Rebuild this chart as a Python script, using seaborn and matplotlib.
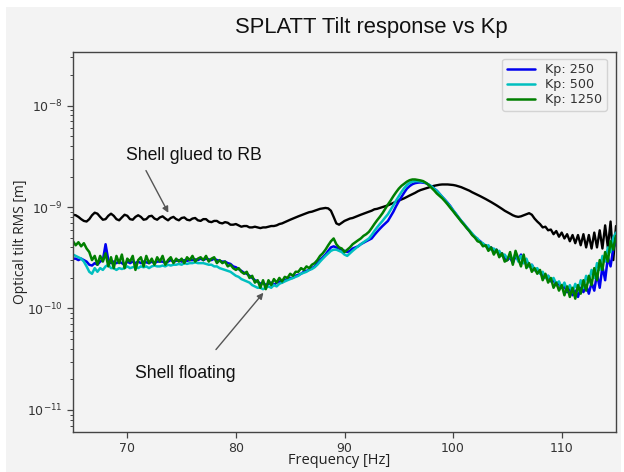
import numpy as np
import pandas as pd
import matplotlib
matplotlib.use("Agg")
import matplotlib.pyplot as plt
from matplotlib.patches import Rectangle
from matplotlib.ticker import NullFormatter
import seaborn as sns

# frequency grid, 65 .. 115 Hz, step 0.25 Hz
freq = np.arange(65.0, 115.001, 0.25)

# values below in units of 1e-10 m
glued = [
    8.4, 8.3, 8.0, 7.6, 7.3, 7.2, 7.6, 8.3,      # 65
    8.8, 8.6, 8.0, 7.5, 7.6, 8.2, 8.6, 8.2,      # 67
    7.6, 7.4, 7.9, 8.4, 8.2, 7.6, 7.5, 8.0,      # 69
    8.3, 8.0, 7.5, 7.6, 8.1, 8.2, 7.7, 7.5,      # 71
    7.9, 8.1, 7.7, 7.4, 7.8, 8.0, 7.6, 7.4,      # 73
    7.8, 7.9, 7.5, 7.4, 7.7, 7.8, 7.4, 7.3,      # 75
    7.6, 7.6, 7.2, 7.1, 7.3, 7.3, 7.0, 6.9,      # 77
    7.1, 7.0, 6.7, 6.7, 6.8, 6.6, 6.4, 6.5,      # 79
    6.5, 6.3, 6.3, 6.4, 6.3, 6.2, 6.3, 6.3,      # 81
    6.4, 6.5, 6.5, 6.6, 6.8, 6.9, 7.1, 7.3,      # 83
    7.5, 7.7, 7.9, 8.1, 8.3, 8.5, 8.7, 8.9,      # 85
    9.0, 9.2, 9.4, 9.6, 9.7, 9.8, 9.7, 9.2,      # 87
    8.0, 6.9, 6.7, 7.0, 7.3, 7.5, 7.7, 7.8,      # 89
    8.0, 8.2, 8.4, 8.6, 8.8, 9.0, 9.2, 9.5,      # 91
    9.6, 9.8, 10.0, 10.2, 10.4, 10.7, 11.0, 11.3,  # 93
    11.6, 11.9, 12.2, 12.6, 13.0, 13.4, 13.8, 14.3,  # 95
    14.7, 15.0, 15.3, 15.6, 15.9, 16.2, 16.4, 16.6,  # 97
    16.7, 16.7, 16.7, 16.6, 16.5, 16.3, 16.0, 15.7,  # 99
    15.3, 14.9, 14.5, 14.0, 13.6, 13.2, 12.8, 12.4,  # 101
    12.0, 11.6, 11.2, 10.8, 10.4, 10.0, 9.6, 9.2,    # 103
    8.9, 8.6, 8.3, 8.1, 8.0, 8.1, 8.3, 8.5,      # 105
    8.7, 8.4, 7.7, 7.2, 6.8, 6.3, 6.4, 5.9,      # 107
    6.0, 5.4, 5.8, 5.1, 5.6, 4.9, 5.4, 4.6,      # 109
    5.3, 4.4, 5.3, 4.2, 5.4, 4.0, 5.3, 3.9,      # 111
    5.6, 4.0, 5.9, 3.9, 6.6, 4.0, 7.2, 3.0,      # 113
    6.5,                                         # 115
]

kp250 = [
    3.1, 3.1, 3.0, 3.1, 3.0, 2.9, 2.7, 2.65,     # 65
    2.8, 2.7, 2.9, 3.0, 4.3, 3.0, 2.8, 2.9,      # 67
    2.8, 2.9, 2.8, 2.7, 2.9, 2.8, 2.9, 2.8,      # 69
    2.9, 2.8, 2.9, 2.85, 2.8, 2.9, 2.8, 2.9,     # 71
    2.9, 2.9, 2.8, 2.9, 3.0, 2.9, 2.95, 3.0,     # 73
    2.9, 3.0, 2.95, 3.0, 3.0, 3.05, 3.0, 3.1,    # 75
    3.0, 3.1, 3.05, 3.0, 3.1, 3.0, 2.95, 2.9,    # 77
    2.9, 2.8, 2.75, 2.6, 2.55, 2.45, 2.35, 2.25,  # 79
    2.2, 2.1, 2.0, 1.9, 1.85, 1.75, 1.8, 1.7,    # 81
    1.75, 1.8, 1.7, 1.8, 1.85, 1.8, 1.9, 1.95,   # 83
    2.0, 2.0, 2.1, 2.15, 2.2, 2.3, 2.35, 2.4,    # 85
    2.5, 2.6, 2.8, 3.0, 3.2, 3.4, 3.7, 4.0,      # 87
    4.1, 4.0, 3.9, 3.8, 3.7, 3.6, 3.7, 3.9,      # 89
    4.0, 4.1, 4.3, 4.45, 4.6, 4.75, 4.9, 5.3,    # 91
    5.7, 6.1, 6.5, 6.9, 7.3, 8.1, 9.0, 10.2,     # 93
    11.4, 12.6, 13.9, 15.2, 16.1, 16.8, 17.2, 17.4,  # 95
    17.5, 17.4, 17.2, 16.6, 16.0, 15.2, 14.5, 13.5,  # 97
    12.6, 11.8, 11.0, 10.2, 9.3, 8.6, 7.9, 7.3,  # 99
    6.8, 6.3, 5.8, 5.4, 5.1, 4.8, 4.6, 4.3,      # 101
    4.2, 3.9, 4.0, 3.7, 3.8, 3.4, 3.5, 3.1,      # 103
    3.0, 3.2, 2.8, 3.3, 3.0, 3.4, 2.8, 3.0,      # 105
    2.6, 2.7, 2.4, 2.3, 2.3, 2.1, 2.0, 2.1,      # 107
    1.85, 1.9, 1.7, 1.75, 1.6, 1.65, 1.45, 1.55,  # 109
    1.35, 1.5, 1.3, 1.6, 1.45, 1.7, 1.4, 1.8,    # 111
    1.5, 2.2, 1.6, 2.6, 1.9, 3.2, 2.6, 3.9,      # 113
    4.6,                                         # 115
]

kp500 = [
    3.4, 3.3, 3.2, 3.1, 2.9, 2.6, 2.3, 2.2,      # 65
    2.5, 2.3, 2.5, 2.4, 2.6, 2.7, 2.5, 2.5,      # 67
    2.4, 2.5, 2.45, 2.5, 2.6, 2.5, 2.55, 2.6,    # 69
    2.5, 2.6, 2.55, 2.6, 2.5, 2.6, 2.65, 2.6,    # 71
    2.6, 2.65, 2.6, 2.7, 2.65, 2.7, 2.7, 2.75,   # 73
    2.7, 2.8, 2.75, 2.8, 2.8, 2.85, 2.8, 2.8,    # 75
    2.8, 2.75, 2.7, 2.7, 2.6, 2.6, 2.5, 2.45,    # 77
    2.4, 2.35, 2.3, 2.2, 2.1, 2.05, 1.95, 1.9,   # 79
    1.85, 1.8, 1.7, 1.65, 1.6, 1.6, 1.55, 1.6,   # 81
    1.65, 1.6, 1.7, 1.65, 1.75, 1.8, 1.85, 1.9,  # 83
    1.95, 2.0, 2.05, 2.1, 2.2, 2.25, 2.3, 2.4,   # 85
    2.45, 2.55, 2.7, 2.9, 3.1, 3.3, 3.5, 3.7,    # 87
    3.8, 3.8, 3.7, 3.6, 3.4, 3.3, 3.5, 3.7,      # 89
    3.9, 4.1, 4.3, 4.5, 4.7, 4.9, 5.3, 5.8,      # 91
    6.3, 6.8, 7.3, 7.9, 8.5, 9.4, 10.4, 11.6,    # 93
    12.8, 14.1, 15.4, 16.5, 17.3, 17.8, 18.0, 18.0,  # 95
    17.9, 17.7, 17.3, 16.7, 16.0, 15.2, 14.4, 13.5,  # 97
    12.6, 11.7, 10.9, 10.1, 9.3, 8.6, 7.9, 7.3,  # 99
    6.8, 6.3, 5.9, 5.5, 5.1, 4.9, 4.5, 4.4,      # 101
    4.1, 4.2, 3.8, 3.9, 3.6, 3.7, 3.3, 3.4,      # 103
    3.1, 3.3, 3.0, 3.5, 2.9, 3.3, 2.8, 3.1,      # 105
    2.6, 2.7, 2.4, 2.5, 2.2, 2.3, 2.0, 2.1,      # 107
    1.9, 2.0, 1.75, 1.85, 1.6, 1.8, 1.5, 1.7,    # 109
    1.45, 1.75, 1.5, 1.9, 1.6, 2.1, 1.8, 2.4,    # 111
    2.0, 2.8, 2.4, 3.3, 2.9, 4.0, 3.6, 5.0,      # 113
    5.6,                                         # 115
]

kp1250 = [
    4.6, 4.2, 4.5, 4.1, 4.4, 3.9, 3.6, 3.0,      # 65
    3.3, 2.7, 3.3, 2.9, 3.5, 2.6, 3.2, 2.5,      # 67
    3.3, 2.8, 3.4, 2.5, 3.1, 2.9, 3.3, 2.4,      # 69
    3.0, 3.2, 2.6, 3.3, 2.8, 3.1, 2.7, 3.2,      # 71
    2.9, 3.3, 2.7, 3.0, 3.2, 2.8, 3.1, 2.9,      # 73
    3.1, 2.8, 3.2, 3.0, 3.3, 2.9, 3.1, 3.2,      # 75
    3.0, 3.3, 2.9, 3.1, 3.2, 2.8, 3.0, 2.8,      # 77
    2.9, 2.6, 2.7, 2.5, 2.4, 2.5, 2.3, 2.2,      # 79
    2.3, 2.0, 2.1, 1.8, 1.9, 1.6, 1.9, 1.55,     # 81
    1.9, 1.7, 1.95, 1.8, 2.0, 1.85, 2.05, 2.0,   # 83
    2.2, 2.1, 2.3, 2.3, 2.5, 2.4, 2.6, 2.5,      # 85
    2.7, 2.8, 3.0, 3.3, 3.5, 3.8, 4.2, 4.6,      # 87
    4.9, 4.3, 4.0, 3.9, 3.6, 3.8, 4.0, 4.3,      # 89
    4.5, 4.7, 4.9, 5.2, 5.4, 5.7, 6.2, 6.8,      # 91
    7.4, 8.0, 8.7, 9.6, 10.6, 11.6, 12.8, 14.0,  # 93
    15.2, 16.2, 17.0, 17.8, 18.4, 18.7, 18.7, 18.5,  # 95
    18.3, 18.0, 17.3, 16.5, 15.5, 14.6, 13.6, 12.9,  # 97
    12.2, 11.4, 10.6, 9.8, 9.1, 8.4, 7.8, 7.2,   # 99
    6.7, 6.2, 5.8, 5.3, 5.0, 4.6, 4.5, 4.1,      # 101
    4.2, 3.7, 4.0, 3.4, 3.8, 3.2, 3.5, 2.9,      # 103
    3.0, 3.6, 2.7, 3.7, 3.1, 2.6, 3.4, 2.5,      # 105
    2.8, 2.3, 2.5, 2.2, 2.4, 1.9, 2.2, 1.8,      # 107
    2.0, 1.6, 1.8, 1.5, 1.7, 1.35, 1.65, 1.3,    # 109
    1.6, 1.25, 1.7, 1.4, 1.9, 1.5, 2.1, 1.7,     # 111
    2.5, 1.9, 3.0, 2.4, 3.6, 2.9, 4.6, 3.8,      # 113
    5.2,                                         # 115
]

kp_labels = ["Kp: 250", "Kp: 500", "Kp: 1250"]
kp_colors = ["#0000ee", "#00bfbf", "#007f00"]

unit = 1e-10
rows = []
for lab, vals in zip(kp_labels, [kp250, kp500, kp1250]):
    for f, v in zip(freq, vals):
        rows.append((f, v * unit, lab))
df = pd.DataFrame(rows, columns=["freq", "tilt", "Kp"])
df_glued = pd.DataFrame({"freq": freq, "tilt": np.array(glued) * unit})

sns.set_theme(style="ticks")
plt.rcParams["font.family"] = ["DejaVu Sans"]
bg = "#f3f3f3"

fig = plt.figure(figsize=(6.24, 4.72), dpi=100, facecolor="white")
fig.patches.append(Rectangle((6 / 624, 0), 615 / 624, 465 / 472, transform=fig.transFigure,
                             facecolor=bg, edgecolor="none", zorder=-10))
ax = fig.add_axes([73 / 624, 40.3 / 472, 543 / 624, 380 / 472])
ax.set_facecolor(bg)

sns.lineplot(data=df_glued, x="freq", y="tilt", color="black", lw=1.7,
             estimator=None, sort=False, ax=ax, legend=False)
sns.lineplot(data=df, x="freq", y="tilt", hue="Kp", hue_order=kp_labels,
             palette=dict(zip(kp_labels, kp_colors)), lw=1.8,
             estimator=None, sort=False, ax=ax)

ax.set_yscale("log")
ax.set_xlim(65, 115)
ax.set_ylim(6.1e-12, 3.4e-8)
ax.set_xticks([70, 80, 90, 100, 110])
ax.yaxis.set_minor_formatter(NullFormatter())

for s in ax.spines.values():
    s.set_color("#444444")
    s.set_linewidth(1.0)
ax.tick_params(axis="both", which="major", labelsize=9, colors="#444444",
               labelcolor="#333333", length=4, width=0.9)
ax.tick_params(axis="y", which="minor", colors="#444444", length=2.5, width=0.7)

ax.set_xlabel("Frequency [Hz]", family=["Open Sans", "DejaVu Sans"], fontsize=10.5,
              color="#222222")
ax.xaxis.set_label_coords(0.49, -0.057)
ax.set_ylabel("Optical tilt RMS [m]", family=["Open Sans", "DejaVu Sans"], fontsize=10,
              color="#222222")
ax.yaxis.set_label_coords(-0.082, 0.5)

fig.text(371 / 624, 1 - 28 / 472, "SPLATT Tilt response vs Kp",
         family=["Liberation Sans", "DejaVu Sans"], fontsize=15.8,
         ha="center", va="center", color="#111111")

leg = ax.legend(loc="upper right", fontsize=9.2, frameon=True, handlelength=2.2,
                borderpad=0.35, labelspacing=0.15, bbox_to_anchor=(0.995, 0.998))
leg.get_frame().set_facecolor(bg)
leg.get_frame().set_edgecolor("#cccccc")
for t in leg.get_texts():
    t.set_color("#333333")

ann_font = ["Liberation Sans", "DejaVu Sans"]
arrow = dict(arrowstyle="-|>", color="#555555", lw=1.0, mutation_scale=9)
ax.text(76.1, 3.25e-9, "Shell glued to RB", family=ann_font, fontsize=12.7,
        ha="center", va="center", color="#111111")
ax.annotate("", xy=(73.9, 8.3e-10), xytext=(71.6, 2.42e-9), arrowprops=arrow)
ax.text(75.3, 2.29e-11, "Shell floating", family=ann_font, fontsize=12.7,
        ha="center", va="center", color="#111111")
ax.annotate("", xy=(82.7, 1.5e-10), xytext=(78.0, 3.75e-11), arrowprops=arrow)

fig.savefig("out.png", dpi=100, facecolor=fig.get_facecolor())
